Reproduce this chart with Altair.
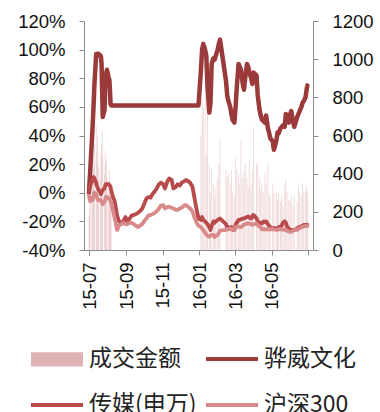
import altair as alt
import pandas as pd

# ---------------- data ----------------
dates = [
    # 2015 Jul - Aug 7 (trading days)
    "2015-07-01", "2015-07-02", "2015-07-03", "2015-07-06", "2015-07-07", "2015-07-08", "2015-07-09",
    "2015-07-10", "2015-07-13", "2015-07-14", "2015-07-15", "2015-07-16", "2015-07-17", "2015-07-20",
    "2015-07-21", "2015-07-22", "2015-07-23", "2015-07-24", "2015-07-27", "2015-07-28", "2015-07-29",
    "2015-07-30", "2015-07-31", "2015-08-03", "2015-08-04", "2015-08-05", "2015-08-06", "2015-08-07",
    # 2015 Aug 10 - Dec 31
    "2015-08-10", "2015-08-13", "2015-08-17", "2015-08-20", "2015-08-24", "2015-08-27", "2015-08-31",
    "2015-09-03", "2015-09-07", "2015-09-10", "2015-09-14", "2015-09-17", "2015-09-21", "2015-09-24", "2015-09-28",
    "2015-10-01", "2015-10-05", "2015-10-08", "2015-10-12", "2015-10-15", "2015-10-19", "2015-10-22", "2015-10-26", "2015-10-29",
    "2015-11-02", "2015-11-05", "2015-11-09", "2015-11-12", "2015-11-16", "2015-11-19", "2015-11-23", "2015-11-26", "2015-11-30",
    "2015-12-03", "2015-12-07", "2015-12-10", "2015-12-14", "2015-12-17", "2015-12-21", "2015-12-24", "2015-12-28", "2015-12-31",
    # 2016 Jan - Jun
    "2016-01-04", "2016-01-06", "2016-01-08", "2016-01-11", "2016-01-13", "2016-01-15", "2016-01-18",
    "2016-01-20", "2016-01-22", "2016-01-25", "2016-01-27", "2016-01-29",
    "2016-02-01", "2016-02-03", "2016-02-05", "2016-02-15", "2016-02-17", "2016-02-19", "2016-02-22",
    "2016-02-24", "2016-02-26", "2016-02-29",
    "2016-03-02", "2016-03-04", "2016-03-07", "2016-03-09", "2016-03-11", "2016-03-14", "2016-03-16",
    "2016-03-18", "2016-03-21", "2016-03-23", "2016-03-25", "2016-03-28", "2016-03-30",
    "2016-04-01", "2016-04-06", "2016-04-08", "2016-04-11", "2016-04-13", "2016-04-15", "2016-04-18",
    "2016-04-20", "2016-04-22", "2016-04-25", "2016-04-27", "2016-04-29",
    "2016-05-03", "2016-05-05", "2016-05-09", "2016-05-11", "2016-05-13", "2016-05-16", "2016-05-18",
    "2016-05-20", "2016-05-23", "2016-05-25", "2016-05-27", "2016-05-30",
    "2016-06-01", "2016-06-03", "2016-06-06", "2016-06-08", "2016-06-13", "2016-06-15", "2016-06-17",
    "2016-06-20", "2016-06-22", "2016-06-24", "2016-06-27", "2016-06-29", "2016-06-30",
]

# 骅威文化 cumulative return (%)
huawei = [
    0, 8, 15, 38, 46, 55, 64, 75, 97, 96, 97, 96, 97, 96, 95, 90, 70, 53, 58, 72, 80, 84, 86, 80, 79, 72, 62, 61,
    61, 61, 61, 61, 61, 61, 61,
    61, 61, 61, 61, 61, 61, 61, 61,
    61, 61, 61, 61, 61, 61, 61, 61, 61,
    61, 61, 61, 61, 61, 61, 61, 61, 61,
    61, 61, 61, 61, 61, 61, 61, 61, 61,
    85, 100, 104, 100, 96, 74, 56, 62, 90, 94, 93, 96,
    100, 104, 107, 78, 68, 64, 60, 55, 51, 49,
    60, 74, 90, 88, 86, 76, 72, 80, 90, 88, 84, 80, 76,
    84, 82, 68, 58, 54, 51, 50, 49, 54, 45, 42, 38,
    36, 30, 36, 42, 41.5, 45, 46, 47, 46, 55, 51, 49,
    55, 57, 50, 46, 53, 55, 57, 60, 63, 64, 67, 73, 75,
]

# 传媒(申万) cumulative return (%)
media = [
    1, 3, 5, 8, 9, 10, 11, 10, 7, 5, 4, 3, 2, 0, -1, 0, 1, 2, 3, 5, 6, 6, 6, 6, 5, 5, 4, 2,
    -3, -6, -16, -20, -21, -20, -17,
    -20, -18, -16, -15.5, -15, -14, -13, -11,
    -8, -4, -3, -3.5, -1, 1, 3, 6, 7,
    6, 3, 8, 10, 9, 3, 4, 6, 5,
    7, 8, 9, 8, 7, 4, -3, -12, -18,
    -19, -17, -19, -20, -21, -22, -24, -26, -23, -20, -21, -20,
    -19, -18.5, -18, -22, -25, -24, -25, -24, -26, -26,
    -22, -21, -19, -19, -18.5, -18, -18, -17.5, -17, -16.5, -17.5, -18, -16,
    -15.5, -18, -20, -21, -21, -21.4, -20, -20.5, -20, -22, -23, -24,
    -25, -24.5, -25, -25, -24, -23.7, -23, -21, -20, -21, -23.7, -25,
    -26, -26, -26, -26, -25, -24, -24, -23.5, -23, -22.5, -22.5, -22.5, -22.5,
]

# 沪深300 cumulative return (%)
hs300 = [
    -2, -4, -6, -4, -5, -3, -1, 0, -1, -3, -4, -5, -5, -5, -6, -6, -7, -8, -6, -5, -3, -3, -3, -4, -4, -5, -6, -7,
    -12, -18, -26, -23, -22, -21, -22,
    -22, -21, -21, -22, -23, -24, -23, -22,
    -20, -18, -16, -15.5, -15, -14, -13, -11, -9,
    -8.6, -11, -10, -9.7, -10.5, -11, -12, -12, -11,
    -10.5, -9, -8.6, -10, -11, -13, -17, -21, -23,
    -24, -25, -26, -28, -29, -30, -30.7, -30, -29.5, -29.5, -31, -30,
    -29.5, -28, -26.5, -26, -25.5, -25.5, -25, -25, -25.5, -26,
    -24, -23.7, -23.7, -23.7, -24, -23, -22.5, -22, -21.5, -21.5, -21.4, -22, -22.5,
    -22, -21.4, -22.5, -23.7, -24, -25.5, -25.5, -25.5, -25.5, -25.5, -25.5, -25.5,
    -25.5, -25.5, -26, -26, -25.5, -25.5, -25.5, -25.8, -26, -26, -26.5, -27,
    -27.3, -27.3, -26.5, -26, -26, -25, -24.9, -24, -23.7, -23.5, -23.3, -23.2, -23.2,
]

# 成交金额 (right axis), 0 = suspended
turnover = [
    180, 220, 300, 260, 350, 420, 480, 560, 650, 520, 600, 450, 420, 380, 500, 560, 620, 480, 400, 520, 450, 480, 380, 330, 420, 360, 300, 260,
    0, 0, 0, 0, 0, 0, 0,
    0, 0, 0, 0, 0, 0, 0, 0,
    0, 0, 0, 0, 0, 0, 0, 0, 0,
    0, 0, 0, 0, 0, 0, 0, 0, 0,
    0, 0, 0, 0, 0, 0, 0, 0, 0,
    600, 786, 750, 803, 500, 734, 450, 300, 420, 350, 280, 330,
    380, 450, 576, 420, 380, 402, 350, 419, 300, 280,
    489, 420, 400, 350, 576, 380, 420, 455, 380, 330, 472, 350, 420,
    646, 455, 445, 380, 320, 350, 300, 402, 350, 455, 300, 280,
    350, 300, 297, 260, 300, 250, 280, 230, 340, 367, 300, 262,
    250, 280, 230, 280, 250, 332, 300, 280, 350, 300, 320, 340, 300,
]

series_names = ["成交金额", "骅威文化", "传媒(申万)", "沪深300"]
bar_color = "#dfb2b4"
line_colors = ["rgba(0,0,0,0)", "#9b3a3b", "#b94a4c", "#d8898a"]
left_ticks = [-40, -20, 0, 20, 40, 60, 80, 100, 120]
right_ticks = [0, 200, 400, 600, 800, 1000, 1200]

# ---------------- tables ----------------
dt = pd.to_datetime(dates)
line_rows = []
for name, vals in [("骅威文化", huawei), ("传媒(申万)", media), ("沪深300", hs300)]:
    for d, v in zip(dt, vals):
        line_rows.append({"date": d, "series": name, "value": v})
df_lines = pd.DataFrame(line_rows)
df_bars = pd.DataFrame({"date": dt, "turnover": turnover, "series": series_names[0]})
df_bars = df_bars[df_bars["turnover"] > 0]

AXIS_FONT = "Liberation Sans"
GRAY = "#8c8c8c"
LEG_X, LEG_Y = -55, 323

x_ticks = [
    alt.DateTime(year=2015, month=7, date=1), alt.DateTime(year=2015, month=9, date=1),
    alt.DateTime(year=2015, month=11, date=1), alt.DateTime(year=2016, month=1, date=1),
    alt.DateTime(year=2016, month=3, date=1), alt.DateTime(year=2016, month=5, date=1),
    alt.DateTime(year=2016, month=7, date=1),
]
x_enc = alt.X(
    "date:T",
    scale=alt.Scale(domain=[alt.DateTime(year=2015, month=7, date=1), alt.DateTime(year=2016, month=7, date=1)]),
    axis=alt.Axis(
        values=x_ticks, title=None, grid=False,
        labelExpr="year(datum.value) == 2016 && month(datum.value) == 6 ? '' : timeFormat(datum.value, '%y-%m')",
        labelAngle=270, labelFontSize=18.5, labelFont=AXIS_FONT, labelColor="#111",
        labelPadding=7, tickSize=5, tickColor=GRAY, domainColor=GRAY,
    ),
)

common_legend = dict(
    title=None, orient="none", legendX=LEG_X, legendY=LEG_Y, columns=2, direction="horizontal",
    columnPadding=1, rowPadding=19, symbolSize=676, symbolStrokeWidth=4,
    labelOffset=30, labelFontSize=23, labelFont="Noto Sans CJK SC", labelColor="#222",
    labelLimit=400, symbolOpacity=1,
)

# bar legend: only the rectangle symbol (label drawn by the line legend at same spot)
fill_enc = alt.Fill(
    "series:N",
    scale=alt.Scale(domain=[series_names[0]], range=[bar_color]),
    legend=alt.Legend(symbolType="M-1,-0.55H3V0.55H-1Z", symbolFillColor=bar_color,
                      symbolStrokeColor="rgba(0,0,0,0)", labelOpacity=0, **common_legend),
)
stroke_enc = alt.Stroke(
    "series:N",
    scale=alt.Scale(domain=series_names, range=line_colors),
    legend=alt.Legend(symbolType="M-1,0H3", **common_legend),
)

bars = alt.Chart(df_bars).mark_bar(size=1, opacity=0.45).encode(
    x=x_enc,
    y=alt.Y("turnover:Q", scale=alt.Scale(domain=[0, 1200]),
            axis=alt.Axis(orient="right", values=right_ticks, title=None, grid=False, format="d",
                          labelFontSize=18.5, labelFont=AXIS_FONT, labelColor="#111", labelPadding=14,
                          tickSize=5, tickColor=GRAY, domainColor=GRAY)),
    fill=fill_enc,
)

y_left = alt.Y("value:Q", scale=alt.Scale(domain=[-40, 120]),
               axis=alt.Axis(orient="left", values=left_ticks, title=None, grid=False,
                             labelExpr="datum.value + '%'",
                             labelFontSize=18.5, labelFont=AXIS_FONT, labelColor="#111", labelPadding=14,
                             tickSize=5, tickColor=GRAY, domainColor=GRAY))

line_layers = []
for name, w in [("骅威文化", 4.5), ("传媒(申万)", 3.8), ("沪深300", 3.8)]:
    line_layers.append(
        alt.Chart(df_lines).transform_filter(alt.datum.series == name)
        .mark_line(strokeWidth=w, strokeJoin="round", strokeCap="round")
        .encode(x=x_enc, y=y_left, stroke=stroke_enc)
    )
lines = alt.layer(*line_layers)

chart = alt.layer(bars, lines).resolve_scale(y="independent").properties(
    width=229, height=229,
    autosize=alt.AutoSizeParams(type="none"),
    padding={"left": 84, "top": 21, "right": 67, "bottom": 162},
    background="white",
).configure_view(stroke=None)

chart.save("out.html", embed_options={"renderer": "svg", "actions": False})
